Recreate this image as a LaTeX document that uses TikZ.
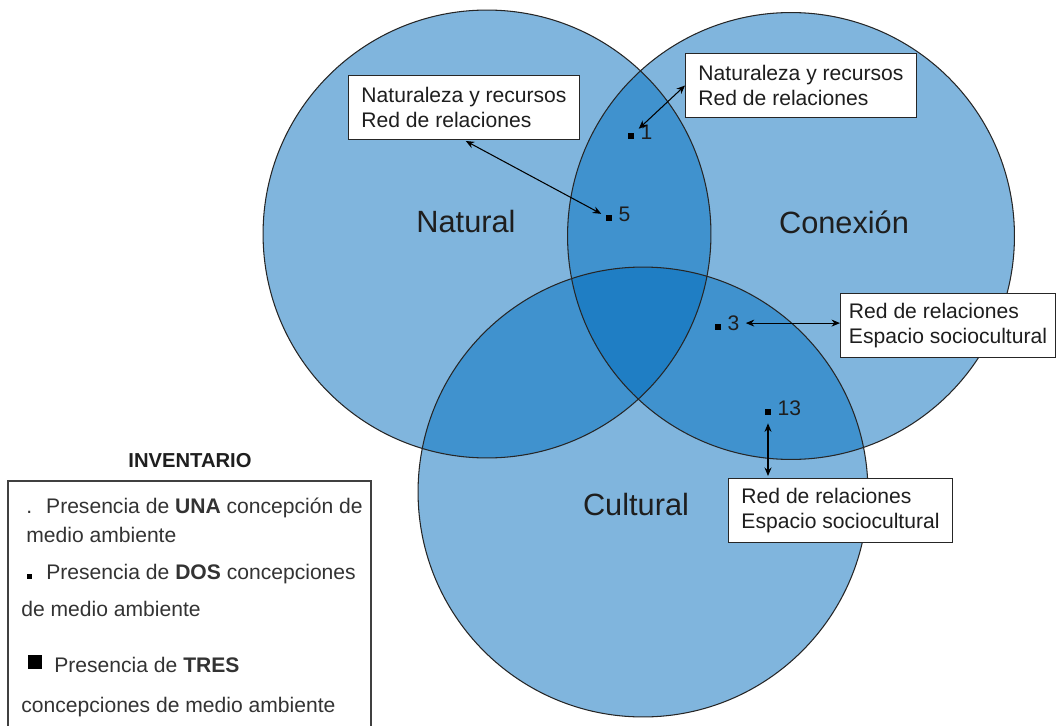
\documentclass[tikz,border=0pt]{standalone}
\usepackage{fontspec}
\setmainfont{Liberation Sans}
\usetikzlibrary{positioning,calc,arrows.meta}
\definecolor{vennuno}{RGB}{128,181,221}
\definecolor{venndos}{RGB}{64,146,206}
\definecolor{venntres}{RGB}{31,126,196}
\definecolor{texto}{RGB}{30,30,30}
\tikzset{
  contorno/.style={draw=black!85, line width=0.6pt},
  campo/.style={text=texto, inner sep=0pt, font=\fontsize{17.5}{21}\selectfont},
  caja/.style={draw=black!85, line width=0.6pt, fill=white, text=texto, align=left,
    anchor=north west, minimum height=1.28cm, font=\fontsize{12}{14.2}\selectfont},
  punto/.style={fill=black, inner sep=0pt, minimum size=0.12cm},
  num/.style={text=texto, inner sep=0pt, anchor=base west, font=\fontsize{12}{14}\selectfont},
  flecha/.style={<->, >={Stealth[length=1.7mm,width=1.4mm]}, line width=0.6pt},
  leyenda/.style={text=black!80, inner sep=0pt, anchor=base west, font=\fontsize{12}{14}\selectfont}
}

\begin{document}
\begin{tikzpicture}[x=0.02cm, y=-0.02cm]
  \useasboundingbox (0,0) rectangle (1057,726);

  % Circles of the diagram
  \coordinate (natural) at (487,234);
  \coordinate (conexion) at (791,236);
  \coordinate (cultural) at (643,492);
  \fill[vennuno] (natural) circle[radius=4.48cm];
  \fill[vennuno] (conexion) circle[radius=4.47cm];
  \fill[vennuno] (cultural) circle[radius=4.5cm];
  % two circles
  \begin{scope}
    \clip (natural) circle[radius=4.48cm];
    \fill[venndos] (conexion) circle[radius=4.47cm];
    \fill[venndos] (cultural) circle[radius=4.5cm];
  \end{scope}
  \begin{scope}
    \clip (conexion) circle[radius=4.47cm];
    \fill[venndos] (cultural) circle[radius=4.5cm];
  \end{scope}
  % three circles
  \begin{scope}
    \clip (natural) circle[radius=4.48cm];
    \clip (conexion) circle[radius=4.47cm];
    \fill[venntres] (cultural) circle[radius=4.5cm];
  \end{scope}
  \draw[contorno] (natural) circle[radius=4.48cm];
  \draw[contorno] (conexion) circle[radius=4.47cm];
  \draw[contorno] (cultural) circle[radius=4.5cm];

  % Names of the circles
  \node[campo] (tnatural) at (466,222) {Natural};
  \node[campo] (tconexion) at (844,222) {Conexión};
  \node[campo] (tcultural) at (636,505) {Cultural};

  % Markers and numbers
  \node[punto] (m1) at (631,136) {};
  \node[num] (n1) at ([xshift=0.12cm]m1.south east) {1};
  \node[punto] (m5) at (609,218) {};
  \node[num] (n5) at ([xshift=0.12cm]m5.south east) {5};
  \node[punto] (m3) at (718,327) {};
  \node[num] (n3) at ([xshift=0.12cm]m3.south east) {3};
  \node[punto] (m13) at (768,412) {};
  \node[num] (n13) at ([xshift=0.12cm]m13.south east) {13};

  % Boxes
  \node[caja, minimum width=4.62cm] (caja1) at (348,75) {Naturaleza y recursos\\Red de relaciones};
  \node[caja, minimum width=4.62cm] (caja2) at (685,53) {Naturaleza y recursos\\Red de relaciones};
  \node[caja, minimum width=4.3cm] (caja3) at (840,293) {Red de relaciones\\Espacio sociocultural};
  \node[caja, minimum width=4.48cm] (caja4) at (728,478) {Red de relaciones\\Espacio sociocultural};

  % Arrows
  \draw[flecha, shorten <=0.04cm, shorten >=0.1cm] (caja1.south) -- (m5);
  \draw[flecha, shorten >=0.12cm] (caja2.west) -- (m1);
  \draw[flecha, shorten <=0.12cm] (n3.east) -- (n3.east -| caja3.west);
  \draw[flecha, shorten <=0.16cm, shorten >=0.04cm] (m13) -- (m13 |- caja4.north);

  % Legend
  \node[text=texto, inner sep=0pt, anchor=base, font=\bfseries\fontsize{11.5}{13}\selectfont] (titulo) at (190,467) {INVENTARIO};
  \draw[black!75, line width=0.8pt] (8,726) |- (371,481) -- (371,726);
  \node[leyenda] (l1) at (26,513) {.\hspace{0.28cm}Presencia de \textbf{UNA} concepción de};
  \node[leyenda] (l2) at (26,542) {medio ambiente};
  \node[punto, minimum size=0.1cm] (ldos) at (29,576) {};
  \node[leyenda] (l3) at (46,579) {Presencia de \textbf{DOS} concepciones};
  \node[leyenda] (l4) at (21,616) {de medio ambiente};
  \node[punto, minimum size=0.27cm] (ltres) at (35,662) {};
  \node[leyenda] (l5) at (54,672) {Presencia de \textbf{TRES}};
  \node[leyenda] (l6) at (21,712) {concepciones de medio ambiente};
\end{tikzpicture}
\end{document}
